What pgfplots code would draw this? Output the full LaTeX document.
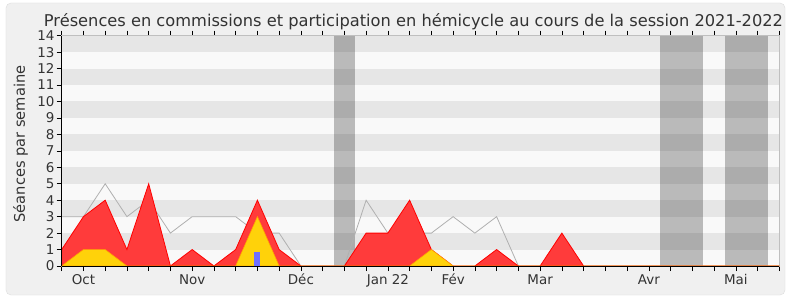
\documentclass[border=0pt]{standalone}
\usepackage{fontspec}
\setmainfont{DejaVu Sans}
\usepackage{pgfplots}
\pgfplotsset{compat=1.18}
\definecolor{bgouter}{HTML}{F0F0F0}
\definecolor{frame}{HTML}{DDDDDD}
\definecolor{stripelight}{HTML}{F9F9F9}
\definecolor{stripegray}{HTML}{E6E6E6}
\definecolor{redfill}{HTML}{FF3B3B}
\definecolor{redline}{HTML}{FF0000}
\definecolor{yellowfill}{HTML}{FFD20A}
\definecolor{yellowline}{HTML}{FFA500}
\definecolor{grayline}{HTML}{B0B0B0}
\definecolor{bluebar}{HTML}{6F6FFF}
\definecolor{txt}{HTML}{333333}
\begin{document}
\begin{tikzpicture}[x=1bp,y=1bp]
\useasboundingbox (-61.7,-34) rectangle (728.3,266);
\fill[white] (-61.7,-34) rectangle (728.3,266);
\filldraw[fill=bgouter, draw=frame, rounded corners=5bp] (-55.7,-29) rectangle (723.3,263);
\begin{axis}[
  at={(0,0)}, anchor=south west,
  scale only axis, width=717.6bp, height=230.3bp,
  xmin=0, xmax=33, ymin=0, ymax=14,
  axis background/.style={fill=stripelight},
  axis line style={draw=black!25, line width=0.6bp},
  xtick={0,...,33},
  xticklabels={,Oct,,,,,Nov,,,,,Déc,,,,Jan 22,,,Fév,,,,Mar,,,,,Avr,,,,Mai,,},
  ytick={0,...,14},
  xtick pos=both, ytick pos=left,
  tick align=outside,
  major tick length=5bp,
  every tick/.style={black, line width=0.6bp},
  tick label style={font=\fontsize{13.5}{13.5}\selectfont, text=txt},
  /pgf/number format/assume math mode=true,
  xticklabel style={anchor=base, yshift=-13bp},
  yticklabel style={anchor=east, inner sep=0pt, xshift=-2bp},
  clip=true,
]
% background stripes
\addplot[fill=stripegray, draw=none] coordinates {(0,1) (33,1) (33,2) (0,2)} -- cycle;
\addplot[fill=stripegray, draw=none] coordinates {(0,3) (33,3) (33,4) (0,4)} -- cycle;
\addplot[fill=stripegray, draw=none] coordinates {(0,5) (33,5) (33,6) (0,6)} -- cycle;
\addplot[fill=stripegray, draw=none] coordinates {(0,7) (33,7) (33,8) (0,8)} -- cycle;
\addplot[fill=stripegray, draw=none] coordinates {(0,9) (33,9) (33,10) (0,10)} -- cycle;
\addplot[fill=stripegray, draw=none] coordinates {(0,11) (33,11) (33,12) (0,12)} -- cycle;
\addplot[fill=stripegray, draw=none] coordinates {(0,13) (33,13) (33,14) (0,14)} -- cycle;
% vacation bands
\addplot[fill=black, fill opacity=0.25, draw=none] coordinates {(12.5,0) (13.5,0) (13.5,14) (12.5,14)} -- cycle;
\addplot[fill=black, fill opacity=0.25, draw=none] coordinates {(27.5,0) (29.5,0) (29.5,14) (27.5,14)} -- cycle;
\addplot[fill=black, fill opacity=0.25, draw=none] coordinates {(30.5,0) (32.5,0) (32.5,14) (30.5,14)} -- cycle;
% hemicycle participation (gray line)
\addplot[grayline, line width=0.8bp] coordinates {
 (0,3) (1,3) (2,5) (3,3) (4,4) (5,2) (6,3) (7,3) (8,3) (9,2) (10,2) (11,0)
 (12,0) (13,0) (14,4) (15,2) (16,2) (17,2) (18,3) (19,2) (20,3) (21,0) (22,0)
 (23,0) (24,0) (25,0) (26,0) (27,0) (28,0) (29,0) (30,0) (31,0) (32,0) (33,0)};
% presences (red area)
\addplot[fill=redfill, draw=redline, line width=0.8bp] coordinates {
 (0,1) (1,3) (2,4) (3,1) (4,5) (5,0) (6,1) (7,0) (8,1) (9,4) (10,1) (11,0)
 (12,0) (13,0) (14,2) (15,2) (16,4) (17,1) (18,0) (19,0) (20,1) (21,0) (22,0)
 (23,2) (24,0) (25,0) (26,0) (27,0) (28,0) (29,0) (30,0) (31,0) (32,0) (33,0)} \closedcycle;
% yellow area
\addplot[fill=yellowfill, draw=yellowline, line width=0.6bp] coordinates {
 (0,0) (1,1) (2,1) (3,0) (4,0) (5,0) (6,0) (7,0) (8,0) (9,3) (10,0) (11,0)
 (12,0) (13,0) (14,0) (15,0) (16,0) (17,1) (18,0) (19,0) (20,0) (21,0) (22,0)
 (23,0) (24,0) (25,0) (26,0) (27,0) (28,0) (29,0) (30,0) (31,0) (32,0) (33,0)} \closedcycle;
% blue bar
\addplot[ybar, bar width=6bp, fill=bluebar, draw=none] coordinates {(9,0.87)};
\end{axis}
\draw[black, line width=0.8bp] (0,0) -- (717.6,0);
\draw[black, line width=0.8bp] (0,0) -- (0,230.3);
\node[text=txt, font=\fontsize{16.3}{16.3}\selectfont, anchor=base] at (351.8,239.3)
  {Présences en commissions et participation en hémicycle au cours de la session 2021-2022};
\node[text=txt, font=\fontsize{14.7}{14.7}\selectfont, rotate=90, anchor=base] at (-36.7,122)
  {Séances par semaine};
\end{tikzpicture}
\end{document}
